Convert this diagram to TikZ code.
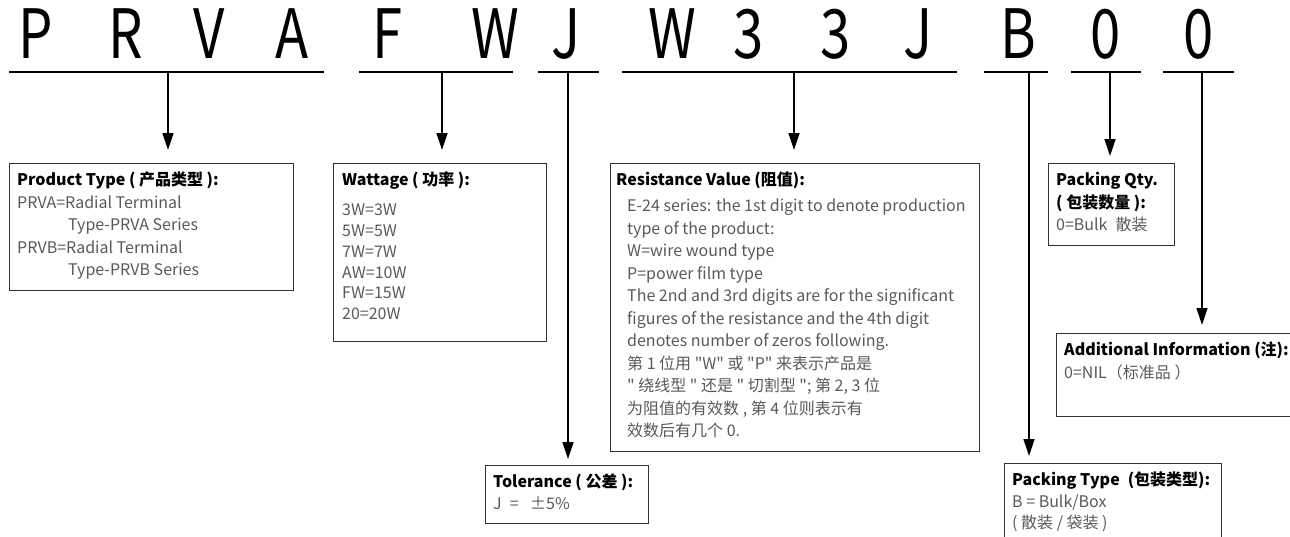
\documentclass[tikz,border=0pt]{standalone}
\usepackage{fontspec}
\setmainfont{Noto Sans CJK SC}[Ligatures=TeXOff]
\usetikzlibrary{arrows.meta, positioning}

\newcommand{\glyph}[1]{\scalebox{0.8}[1]{#1}}
\newcommand{\ttl}[1]{{\bfseries\color{black}#1}}

\begin{document}
\begin{tikzpicture}[
  x=1pt, y=-1pt,
  every node/.style={font=\fontsize{16}{22.5}\selectfont},
  letter/.style={anchor=base, inner sep=0pt, font=\fontsize{68}{68}\selectfont},
  bar/.style={line width=1.4pt},
  conn/.style={line width=1.4pt, -{Triangle[length=17pt, width=11pt]}, shorten >=13pt},
  box/.style={draw=black!80, line width=1.1pt, anchor=north west, inner sep=0pt},
  txt/.style={anchor=north west, inner sep=0pt, align=left, text=black!65}
]
  \clip (0,0) rectangle (1290,536);

  % part number
  \node[letter] (cP)  at (36,58)   {\glyph{P}};
  \node[letter] (cR)  at (126,58)  {\glyph{R}};
  \node[letter] (cV)  at (209,58)  {\glyph{V}};
  \node[letter] (cA)  at (292,58)  {\glyph{A}};
  \node[letter] (cF)  at (388,58)  {\glyph{F}};
  \node[letter] (cW)  at (495,58)  {\glyph{W}};
  \node[letter] (cJ)  at (566,58)  {\glyph{J}};
  \node[letter] (rW)  at (672,58)  {\glyph{W}};
  \node[letter] (r3a) at (749,58)  {\glyph{3}};
  \node[letter] (r3b) at (836,58)  {\glyph{3}};
  \node[letter] (rJ)  at (918,58)  {\glyph{J}};
  \node[letter] (pB)  at (1018,58) {\glyph{B}};
  \node[letter] (q0)  at (1106,58) {\glyph{0}};
  \node[letter] (a0)  at (1199,58) {\glyph{0}};

  % underlines
  \draw[bar] (9,72) -- (324,72);
  \draw[bar] (359,72) -- (513,72);
  \draw[bar] (538,72) -- (599,72);
  \draw[bar] (622,72) -- (957,72);
  \draw[bar] (984,72) -- (1048,72);
  \draw[bar] (1071,72) -- (1141,72);
  \draw[bar] (1163,72) -- (1234,72);

  \coordinate (tType) at (168,72);
  \coordinate (tWatt) at (442,72);
  \coordinate (tTol)  at (568,72);
  \coordinate (tRes)  at (794,72);
  \coordinate (tPack) at (1029,72);
  \coordinate (tQty)  at (1110,72);
  \coordinate (tAdd)  at (1202,72);

  % boxes
  \node[box, minimum width=284pt, minimum height=127pt] (type) at (9,163) {};
  \node[box, minimum width=213pt, minimum height=178pt] (watt) at (333,163) {};
  \node[box, minimum width=369pt, minimum height=288pt] (res)  at (610,163) {};
  \node[box, minimum width=163pt, minimum height=58pt]  (tol)  at (485,465) {};
  \node[box, minimum width=126pt, minimum height=82pt]  (qty)  at (1048,163) {};
  \node[box, minimum width=260pt, minimum height=83pt]  (add)  at (1056,333) {};
  \node[box, minimum width=217pt, minimum height=95pt]  (pack) at (1004,463) {};

  \node[txt] (typetext) at ([shift={(8,9)}]type.north west)
    {\ttl{Product Type ( 产品类型 ):}\\
     PRVA=Radial Terminal\\
     \hspace*{51pt}Type-PRVA Series\\
     PRVB=Radial Terminal\\
     \hspace*{51pt}Type-PRVB Series};
  \node[txt, font=\fontsize{16}{20.7}\selectfont] (watttext) at ([shift={(9,9)}]watt.north west)
    {\ttl{Wattage ( 功率 ):}\\[9.3pt]
     3W=3W\\ 5W=5W\\ 7W=7W\\ AW=10W\\ FW=15W\\ 20=20W};
  \node[txt] (restext) at ([shift={(6,9)}]res.north west)
    {\ttl{Resistance Value (阻值):}\\[3.5pt]
     \hspace*{11pt}E-24 series: the 1st digit to denote production\\
     \hspace*{11pt}type of the product:\\
     \hspace*{11pt}W=wire wound type\\
     \hspace*{11pt}P=power film type\\
     \hspace*{11pt}The 2nd and 3rd digits are for the significant\\
     \hspace*{11pt}figures of the resistance and the 4th digit\\
     \hspace*{11pt}denotes number of zeros following.\\
     \hspace*{11pt}第 1 位用 "W" 或 "P" 来表示产品是\\
     \hspace*{11pt}" 绕线型 " 还是 " 切割型 "; 第 2, 3 位\\
     \hspace*{11pt}为阻值的有效数 , 第 4 位则表示有\\
     \hspace*{11pt}效数后有几个 0.};
  \node[txt] (toltext) at ([shift={(8,9)}]tol.north west)
    {\ttl{Tolerance ( 公差 ):}\\[-0.5pt]
     J\enspace = \enspace ±5\%};
  \node[txt] (qtytext) at ([shift={(8,9)}]qty.north west)
    {\ttl{Packing Qty.}\\
     \ttl{( 包装数量 ):}\\
     0=Bulk\enspace 散装};
  \node[txt] (addtext) at ([shift={(8,9)}]add.north west)
    {\ttl{Additional Information (注):}\\
     0=NIL（标准品 ）};
  \node[txt] (packtext) at ([shift={(8,9)}]pack.north west)
    {\ttl{Packing Type\enspace(包装类型):}\\[-1pt]
     B = Bulk/Box\\[-1pt]
     ( 散装 / 袋装 )};

  % connectors
  \draw[conn] (tType) -- (tType |- type.north);
  \draw[conn] (tWatt) -- (tWatt |- watt.north);
  \draw[conn, shorten >=6pt] (tTol) -- (tTol |- tol.north);
  \draw[conn] (tRes) -- (tRes |- res.north);
  \draw[conn, shorten >=7pt] (tPack) -- (tPack |- pack.north);
  \draw[conn, shorten >=7pt] (tQty) -- (tQty |- qty.north);
  \draw[conn, shorten >=8pt] (tAdd) -- (tAdd |- add.north);
\end{tikzpicture}
\end{document}
